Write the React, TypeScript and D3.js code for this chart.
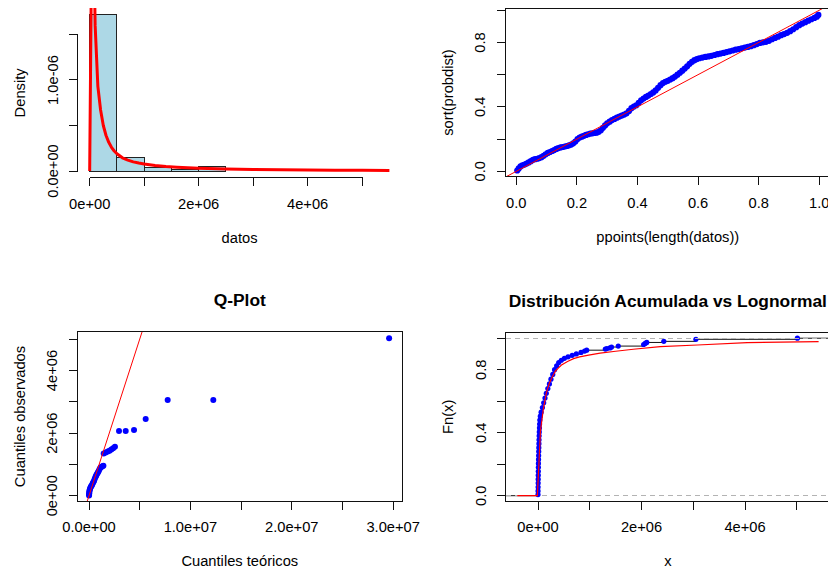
import React from "react";
import * as d3 from "d3";

// ---------- Panel 1: histogram of datos with lognormal density ----------
const histBreaks = [0, 0.5e6, 1.0e6, 1.5e6, 2.0e6, 2.5e6, 3.0e6, 3.5e6, 4.0e6, 4.5e6, 5.0e6, 5.5e6];
const histDensity = [1.72e-6, 0.145e-6, 0.039e-6, 0.013e-6, 0.053e-6, 0, 0, 0, 0, 0, 0];
const pdfX = [0, 0.05e6, 0.1e6, 0.15e6, 0.2e6, 0.25e6, 0.3e6, 0.35e6, 0.4e6, 0.45e6, 0.5e6, 0.6e6, 0.7e6, 0.8e6, 0.9e6, 1.0e6, 1.2e6, 1.4e6, 1.6e6, 1.8e6, 2.0e6, 2.5e6, 3.0e6, 3.5e6, 4.0e6, 4.5e6, 5.0e6, 5.5e6];
const pdfY = [0, 3.5e-6, 1.6e-6, 0.93e-6, 0.67e-6, 0.5e-6, 0.39e-6, 0.315e-6, 0.26e-6, 0.22e-6, 0.19e-6, 0.145e-6, 0.12e-6, 0.1e-6, 0.087e-6, 0.077e-6, 0.061e-6, 0.05e-6, 0.042e-6, 0.036e-6, 0.031e-6, 0.023e-6, 0.017e-6, 0.013e-6, 0.011e-6, 0.009e-6, 0.0075e-6, 0.0065e-6];
const p1XTicks = [0, 1e6, 2e6, 3e6, 4e6, 5e6];
const p1XLabels = ["0e+00", "", "2e+06", "", "4e+06", ""];
const p1YTicks = [0, 0.5e-6, 1.0e-6, 1.5e-6];
const p1YLabels = ["0.0e+00", "", "1.0e-06", ""];

// ---------- Panel 2: sort(probdist) vs ppoints ----------
const ppX = [0.003, 0.008, 0.014, 0.020, 0.027, 0.034, 0.041, 0.048, 0.055, 0.062, 0.069, 0.076, 0.083, 0.090, 0.097, 0.104, 0.111, 0.118, 0.125, 0.132, 0.139, 0.146, 0.153, 0.160, 0.167, 0.174, 0.181, 0.188, 0.195, 0.202, 0.209, 0.216, 0.223, 0.230, 0.237, 0.244, 0.251, 0.258, 0.265, 0.272, 0.279, 0.286, 0.293, 0.300, 0.308, 0.316, 0.324, 0.332, 0.340, 0.348, 0.356, 0.364, 0.372, 0.380, 0.388, 0.396, 0.404, 0.412, 0.420, 0.428, 0.436, 0.444, 0.452, 0.460, 0.468, 0.476, 0.484, 0.492, 0.500, 0.508, 0.516, 0.524, 0.532, 0.540, 0.548, 0.556, 0.564, 0.572, 0.580, 0.588, 0.596, 0.604, 0.614, 0.624, 0.634, 0.644, 0.654, 0.664, 0.674, 0.684, 0.694, 0.704, 0.714, 0.724, 0.734, 0.744, 0.754, 0.764, 0.774, 0.784, 0.794, 0.804, 0.814, 0.824, 0.834, 0.844, 0.854, 0.864, 0.874, 0.884, 0.894, 0.904, 0.914, 0.924, 0.934, 0.944, 0.954, 0.964, 0.974, 0.984, 0.992, 0.997];
const ppY = [0.005, 0.018, 0.030, 0.037, 0.042, 0.048, 0.055, 0.063, 0.071, 0.075, 0.078, 0.082, 0.088, 0.096, 0.106, 0.114, 0.120, 0.126, 0.132, 0.139, 0.144, 0.148, 0.151, 0.154, 0.157, 0.161, 0.166, 0.174, 0.185, 0.200, 0.210, 0.215, 0.220, 0.226, 0.230, 0.234, 0.236, 0.238, 0.240, 0.245, 0.255, 0.270, 0.285, 0.298, 0.308, 0.318, 0.325, 0.333, 0.340, 0.346, 0.352, 0.360, 0.375, 0.392, 0.402, 0.410, 0.425, 0.441, 0.452, 0.462, 0.470, 0.480, 0.490, 0.502, 0.518, 0.535, 0.548, 0.556, 0.562, 0.570, 0.578, 0.588, 0.600, 0.612, 0.625, 0.638, 0.652, 0.667, 0.680, 0.690, 0.697, 0.702, 0.706, 0.710, 0.713, 0.717, 0.722, 0.727, 0.731, 0.735, 0.740, 0.745, 0.750, 0.755, 0.759, 0.764, 0.768, 0.772, 0.777, 0.783, 0.790, 0.797, 0.801, 0.804, 0.810, 0.820, 0.828, 0.836, 0.845, 0.852, 0.860, 0.870, 0.882, 0.895, 0.907, 0.917, 0.926, 0.935, 0.944, 0.952, 0.960, 0.971];
const p2XTicks = [0, 0.2, 0.4, 0.6, 0.8, 1.0];
const p2XLabels = ["0.0", "0.2", "0.4", "0.6", "0.8", "1.0"];
const p2YTicks = [0, 0.2, 0.4, 0.6, 0.8, 1.0];
const p2YLabels = ["0.0", "", "0.4", "", "0.8", ""];

// ---------- Panel 3: Q-Plot ----------
const qTheo = [0.005e6, 0.01e6, 0.02e6, 0.03e6, 0.05e6, 0.08e6, 0.12e6, 0.17e6, 0.23e6, 0.3e6, 0.37e6, 0.44e6, 0.5e6, 0.57e6, 0.64e6, 0.7e6, 0.76e6, 0.83e6, 0.9e6, 0.97e6, 1.05e6, 1.13e6, 1.22e6, 1.32e6, 1.42e6, 1.45e6, 1.65e6, 1.85e6, 2.02e6, 2.2e6, 2.38e6, 2.56e6, 2.96e6, 3.62e6, 4.44e6, 5.59e6, 7.76e6, 12.26e6, 29.6e6];
const qObs = [0.01e6, 0.04e6, 0.08e6, 0.12e6, 0.16e6, 0.2e6, 0.24e6, 0.28e6, 0.31e6, 0.34e6, 0.4e6, 0.44e6, 0.48e6, 0.54e6, 0.6e6, 0.64e6, 0.68e6, 0.72e6, 0.76e6, 0.8e6, 0.85e6, 0.9e6, 0.92e6, 0.94e6, 0.96e6, 1.35e6, 1.38e6, 1.41e6, 1.44e6, 1.48e6, 1.52e6, 1.56e6, 2.07e6, 2.07e6, 2.1e6, 2.45e6, 3.06e6, 3.06e6, 5.03e6];
const p3XTicks = [0, 5e6, 10e6, 15e6, 20e6, 25e6, 30e6];
const p3XLabels = ["0.0e+00", "", "1.0e+07", "", "2.0e+07", "", "3.0e+07"];
const p3YTicks = [0, 1e6, 2e6, 3e6, 4e6, 5e6];
const p3YLabels = ["0e+00", "", "2e+06", "", "4e+06", ""];

// ---------- Panel 4: ECDF vs lognormal CDF ----------
const ecdfX = [0.000e6, 0.001e6, 0.002e6, 0.003e6, 0.004e6, 0.005e6, 0.006e6, 0.007e6, 0.008e6, 0.010e6, 0.012e6, 0.014e6, 0.016e6, 0.018e6, 0.020e6, 0.022e6, 0.025e6, 0.028e6, 0.031e6, 0.035e6, 0.045e6, 0.06e6, 0.085e6, 0.11e6, 0.135e6, 0.16e6, 0.19e6, 0.22e6, 0.25e6, 0.285e6, 0.32e6, 0.36e6, 0.40e6, 0.45e6, 0.51e6, 0.58e6, 0.66e6, 0.74e6, 0.83e6, 0.90e6, 0.94e6, 1.30e6, 1.33e6, 1.39e6, 1.42e6, 1.55e6, 2.04e6, 2.07e6, 2.10e6, 2.43e6, 3.05e6, 5.01e6];
const ecdfY = [0.007, 0.03, 0.055, 0.08, 0.105, 0.13, 0.155, 0.18, 0.205, 0.23, 0.255, 0.28, 0.305, 0.33, 0.355, 0.38, 0.405, 0.43, 0.455, 0.48, 0.505, 0.53, 0.56, 0.59, 0.62, 0.65, 0.68, 0.71, 0.74, 0.77, 0.80, 0.825, 0.845, 0.86, 0.872, 0.882, 0.891, 0.90, 0.91, 0.918, 0.924, 0.931, 0.934, 0.938, 0.944, 0.95, 0.96, 0.967, 0.973, 0.98, 0.993, 1.0];
const cdfX = [-0.4e6, -0.012e6, 0.047e6, 0.105e6, 0.163e6, 0.221e6, 0.28e6, 0.338e6, 0.396e6, 0.454e6, 0.57e6, 0.687e6, 0.803e6, 0.978e6, 1.2e6, 1.5e6, 1.84e6, 2.36e6, 3.08e6, 4.04e6, 5.42e6];
const cdfY = [0, 0, 0.41, 0.555, 0.655, 0.715, 0.757, 0.792, 0.812, 0.83, 0.852, 0.87, 0.881, 0.893, 0.905, 0.917, 0.93, 0.946, 0.957, 0.972, 0.978];
const p4XTicks = [0, 1e6, 2e6, 3e6, 4e6, 5e6];
const p4XLabels = ["0e+00", "", "2e+06", "", "4e+06", ""];
const p4YTicks = [0, 0.2, 0.4, 0.6, 0.8, 1.0];
const p4YLabels = ["0.0", "", "0.4", "", "0.8", ""];
const refLines = [0, 1];

// ---------- layout ----------
const W = 828;
const H = 571;
const FONT = "'Liberation Sans', Arial, Helvetica, sans-serif";
const FS = 14.7;
const FST = 17.4;
const TICK = 8.7;
const INK = "#111";
const BLUE = "#0000FF";
const RED = "#FF0000";

type Box = { l: number; r: number; t: number; b: number };
const box1: Box = { l: 77.7, r: 401.4, t: 8.1, b: 177.7 };
const box2: Box = { l: 505.3, r: 830.3, t: 8.3, b: 176.7 };
const box3: Box = { l: 77.3, r: 402.3, t: 331.7, b: 501.3 };
const box4: Box = { l: 505.7, r: 830.0, t: 332.3, b: 501.3 };

const cr = (v: number) => Math.floor(v) + 0.5;

function makeScales(box: Box, xd: number[], yd: number[]) {
  const x = d3.scaleLinear().domain(xd).range([box.l, box.r]);
  const y = d3.scaleLinear().domain(yd).range([box.b, box.t]);
  return { x, y };
}

function Axes(props: {
  box: Box;
  x: d3.ScaleLinear<number, number>;
  y: d3.ScaleLinear<number, number>;
  xt: number[];
  xl: string[];
  yt: number[];
  yl: string[];
  framed: boolean;
  xTitle: string;
  yTitle: string;
  title?: string;
}) {
  const { box, x, y, xt, xl, yt, yl, framed, xTitle, yTitle, title } = props;
  const L = cr(box.l);
  const B = cr(box.b);
  const els: any[] = [];
  if (framed) {
    els.push(
      <rect key="frame" x={cr(box.l)} y={cr(box.t)} width={cr(box.r) - cr(box.l)} height={cr(box.b) - cr(box.t)}
        fill="none" stroke={INK} strokeWidth={1} shapeRendering="crispEdges" />
    );
  }
  els.push(<line key="ya" x1={L} x2={L} y1={cr(y(yt[0]))} y2={cr(y(yt[yt.length - 1]))} stroke={INK} shapeRendering="crispEdges" />);
  yt.forEach((t, i) => {
    const yy = cr(y(t));
    els.push(<line key={"yt" + i} x1={L - TICK} x2={L} y1={yy} y2={yy} stroke={INK} shapeRendering="crispEdges" />);
    if (yl[i]) {
      els.push(
        <text key={"yl" + i} transform={`translate(${box.l - 25},${y(t)}) rotate(-90)`} textAnchor="middle"
          dominantBaseline="central" fontSize={FS} fontFamily={FONT} fill="#000">{yl[i]}</text>
      );
    }
  });
  els.push(<line key="xa" y1={B} y2={B} x1={cr(x(xt[0]))} x2={cr(x(xt[xt.length - 1]))} stroke={INK} shapeRendering="crispEdges" />);
  xt.forEach((t, i) => {
    const xx = cr(x(t));
    els.push(<line key={"xt" + i} y1={B} y2={B + TICK} x1={xx} x2={xx} stroke={INK} shapeRendering="crispEdges" />);
    if (xl[i]) {
      els.push(
        <text key={"xl" + i} x={x(t)} y={box.b + 26} textAnchor="middle" dominantBaseline="central"
          fontSize={FS} fontFamily={FONT} fill="#000">{xl[i]}</text>
      );
    }
  });
  const cx = (box.l + box.r) / 2;
  const cy = (box.t + box.b) / 2;
  els.push(
    <text key="xtitle" x={cx} y={box.b + 60} textAnchor="middle" dominantBaseline="central" fontSize={FS} fontFamily={FONT} fill="#000">{xTitle}</text>
  );
  els.push(
    <text key="ytitle" transform={`translate(${box.l - 57.5},${cy}) rotate(-90)`} textAnchor="middle" dominantBaseline="central"
      fontSize={FS} fontFamily={FONT} fill="#000">{yTitle}</text>
  );
  if (title) {
    els.push(
      <text key="title" x={cx} y={box.t - 31.5} textAnchor="middle" dominantBaseline="central" fontSize={FST}
        fontWeight="bold" fontFamily={FONT} fill="#000">{title}</text>
    );
  }
  return <g>{els}</g>;
}

function ClipDef({ id, box }: { id: string; box: Box }) {
  return (
    <clipPath id={id}>
      <rect x={box.l} y={box.t} width={box.r - box.l} height={box.b - box.t} />
    </clipPath>
  );
}

export default function App() {
  const s1 = makeScales(box1, [-0.22e6, 5.72e6], [-0.0736e-6, 1.79e-6]);
  const pdfLine = d3.line<number>().x((_, i) => s1.x(pdfX[i])).y((d) => s1.y(d));
  const s2 = makeScales(box2, [-0.0364, 1.0364], [-0.0335, 1.012]);
  const s3 = makeScales(box3, [-1.154e6, 30.9e6], [-0.179e6, 5.24e6]);
  const s4 = makeScales(box4, [-0.624e6, 5.64e6], [-0.0356, 1.0375]);
  const cdfLine = d3.line<number>().x((_, i) => s4.x(cdfX[i])).y((d) => s4.y(d));

  const ecdfSegs: { x1: number; x2: number; y: number }[] = [];
  ecdfSegs.push({ x1: box4.l - 5, x2: s4.x(ecdfX[0]), y: s4.y(0) });
  ecdfX.forEach((v, i) => {
    const next = i < ecdfX.length - 1 ? s4.x(ecdfX[i + 1]) : box4.r + 5;
    ecdfSegs.push({ x1: s4.x(v), x2: next, y: s4.y(ecdfY[i]) });
  });

  return (
    <svg width={W} height={H} viewBox={`0 0 ${W} ${H}`} style={{ position: "absolute", left: 0, top: 0, background: "#fff" }}>
      <defs>
        <ClipDef id="c1" box={box1} />
        <ClipDef id="c2" box={box2} />
        <ClipDef id="c3" box={box3} />
        <ClipDef id="c4" box={box4} />
      </defs>
      <rect x={0} y={0} width={W} height={H} fill="#fff" />

      {/* Panel 1 */}
      <g>
        {histDensity.map((d, i) => {
          const x0 = s1.x(histBreaks[i]);
          const x1 = s1.x(histBreaks[i + 1]);
          const y0 = s1.y(0);
          const yt = s1.y(d);
          return (
            <rect key={i} x={cr(x0)} y={cr(yt)} width={cr(x1) - cr(x0)} height={Math.max(0, cr(y0) - cr(yt))}
              fill="#ADD8E6" stroke="#222" strokeWidth={1} shapeRendering="crispEdges" />
          );
        })}
        <path d={pdfLine(pdfY) || ""} fill="none" stroke={RED} strokeWidth={3} clipPath="url(#c1)" strokeLinejoin="round" />
        <Axes box={box1} x={s1.x} y={s1.y} xt={p1XTicks} xl={p1XLabels} yt={p1YTicks} yl={p1YLabels} framed={false}
          xTitle="datos" yTitle="Density" />
      </g>

      {/* Panel 2 */}
      <g>
        <g clipPath="url(#c2)">
          {ppY.map((v, i) => (
            <circle key={i} cx={s2.x(ppX[i])} cy={s2.y(v)} r={3.1} fill={BLUE} />
          ))}
          <line x1={s2.x(-0.0364)} y1={s2.y(-0.0364)} x2={s2.x(1.0364)} y2={s2.y(1.0364)} stroke={RED} strokeWidth={1} />
        </g>
        <Axes box={box2} x={s2.x} y={s2.y} xt={p2XTicks} xl={p2XLabels} yt={p2YTicks} yl={p2YLabels} framed={true}
          xTitle="ppoints(length(datos))" yTitle="sort(probdist)" />
      </g>

      {/* Panel 3 */}
      <g>
        <g clipPath="url(#c3)">
          {qObs.map((v, i) => (
            <circle key={i} cx={s3.x(qTheo[i])} cy={s3.y(v)} r={3} fill={BLUE} />
          ))}
          <line x1={s3.x(-0.3e6)} y1={s3.y(-0.3e6)} x2={s3.x(6e6)} y2={s3.y(6e6)} stroke={RED} strokeWidth={1} />
        </g>
        <Axes box={box3} x={s3.x} y={s3.y} xt={p3XTicks} xl={p3XLabels} yt={p3YTicks} yl={p3YLabels} framed={true}
          xTitle="Cuantiles teóricos" yTitle="Cuantiles observados" title="Q-Plot" />
      </g>

      {/* Panel 4 */}
      <g>
        <g clipPath="url(#c4)">
          {ecdfSegs.map((s, i) => (
            <line key={"s" + i} x1={s.x1} x2={s.x2} y1={s.y} y2={s.y} stroke={INK} strokeWidth={1} />
          ))}
          {ecdfY.map((v, i) => (
            <circle key={"p" + i} cx={s4.x(ecdfX[i])} cy={s4.y(v)} r={2.6} fill={BLUE} />
          ))}
          {refLines.map((h) => (
            <line key={"h" + h} x1={box4.l} x2={box4.r} y1={cr(s4.y(h))} y2={cr(s4.y(h))} stroke="#B3B3B3"
              strokeWidth={1} strokeDasharray="5,4" shapeRendering="crispEdges" />
          ))}
          <path d={cdfLine(cdfY) || ""} fill="none" stroke={RED} strokeWidth={1.2} />
        </g>
        <Axes box={box4} x={s4.x} y={s4.y} xt={p4XTicks} xl={p4XLabels} yt={p4YTicks} yl={p4YLabels} framed={true}
          xTitle="x" yTitle="Fn(x)" title="Distribución Acumulada vs Lognormal" />
      </g>
    </svg>
  );
}
